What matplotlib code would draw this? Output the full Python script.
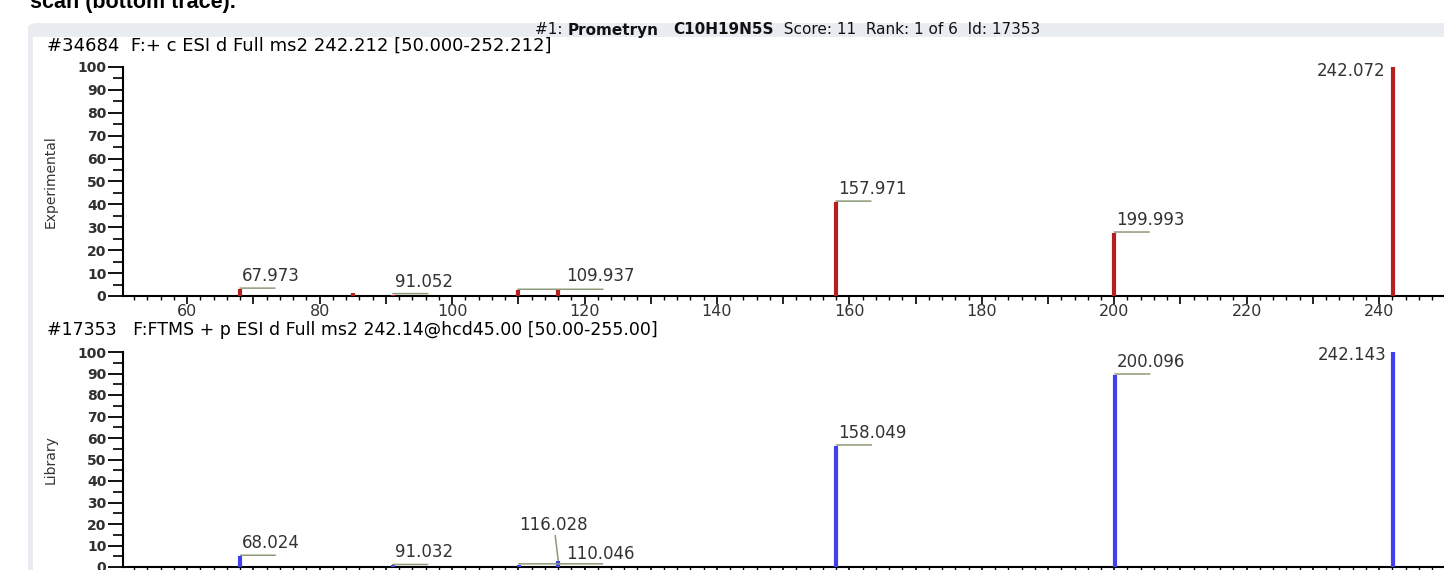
import matplotlib
matplotlib.use("Agg")
import matplotlib.pyplot as plt
from matplotlib.patches import FancyBboxPatch, Rectangle
from matplotlib.ticker import MultipleLocator, FuncFormatter
from matplotlib.transforms import offset_copy

plt.rcParams['font.family'] = ['DejaVu Sans']

# experimental spectrum (top trace)
exp_mz = [67.973, 85.0, 91.052, 109.937, 116.0, 157.971, 199.993, 242.072]
exp_int = [3.0, 1.2, 0.6, 2.5, 3.0, 41.0, 27.5, 100.0]
exp_labels = ['67.973', None, '91.052', '109.937', None, '157.971', '199.993', '242.072']

# library spectrum (bottom trace)
lib_mz = [68.024, 91.032, 110.046, 116.028, 158.049, 200.096, 242.143]
lib_int = [5.0, 0.7, 1.0, 3.0, 56.3, 89.3, 100.0]
lib_labels = ['68.024', '91.032', '110.046', '116.028', '158.049', '200.096', '242.143']

exp_header = "#34684  F:+ c ESI d Full ms2 242.212 [50.000-252.212]"
lib_header = "#17353   F:FTMS + p ESI d Full ms2 242.14@hcd45.00 [50.00-255.00]"
title_parts = [("#1: ", "normal"), ("Prometryn", "bold"), ("   ", "normal"),
               ("C10H19N5S", "bold"), ("  Score: 11  Rank: 1 of 6  Id: 17353", "normal")]

# label placement in pixels relative to the peak top:
# text anchor, leader start height, leader end point
DEFAULT_POS = dict(text=(2, 13), lead0=1, lead=(35, 0), ha='left')
LABEL_POS = {
    '109.937': dict(text=(48, 14), lead0=1, lead=(85, 0), ha='left'),
    '110.046': dict(text=(48, 11), lead0=1, lead=(84, 0), ha='left'),
    '116.028': dict(text=(-39, 36), lead0=0, lead=(-3, 25), ha='left'),
    '242.072': dict(text=(-7, -4), lead0=0, lead=None, ha='right'),
    '242.143': dict(text=(-7, -3), lead0=0, lead=None, ha='right'),
}

W, H = 1444, 570
fig = plt.figure(figsize=(W / 100, H / 100), dpi=100)


def fx(px):
    return px / W


def fy(py):
    return 1 - py / H


# grey rounded frame with the title bar, kept behind the axes
frame = FancyBboxPatch((fx(28), fy(700)), fx(1500), fy(23) - fy(700),
                       boxstyle="round,pad=0,rounding_size=0.008",
                       transform=fig.transFigure, fc='#e9ecf0', ec='none', zorder=-3)
fig.patches.append(frame)
fig.patches.append(Rectangle((fx(33), 0), 1, fy(37), transform=fig.transFigure,
                             fc='white', ec='none', zorder=-2))

fig.text(fx(30), fy(8), "scan (bottom trace).", fontsize=15.5, weight='bold',
         family=['Liberation Sans', 'DejaVu Sans'], va='baseline', color='black')

# title line, pieces chained left to right
renderer = fig.canvas.get_renderer()
x = fx(535)
for txt, wt in title_parts:
    t = fig.text(x, fy(30), txt, fontsize=11, weight=wt, va='center', color='#111111')
    bb = t.get_window_extent(renderer)
    x = bb.x1 / W

fig.text(fx(47), fy(46), exp_header, fontsize=13, va='center', color='black')
fig.text(fx(47), fy(330), lib_header, fontsize=12.5, va='center', color='black')

ax_top = fig.add_axes([fx(123), fy(296), 1 - fx(123), fy(67) - fy(296)])
ax_bot = fig.add_axes([fx(123), fy(567), 1 - fx(123), fy(352) - fy(567)])


def draw_spectrum(ax, mz, inten, labels, color, ylabel, show_x=True):
    ax.vlines(mz, 0, inten, colors=color, lw=3, clip_on=False, zorder=3)
    for m, h, lab in zip(mz, inten, labels):
        if lab is None:
            continue
        pos = LABEL_POS.get(lab, DEFAULT_POS)
        if pos['lead'] is not None:
            start = offset_copy(ax.transData, fig=fig, x=0, y=pos['lead0'], units='dots')
            ax.annotate('', xy=(m, h), xycoords=start, xytext=pos['lead'],
                        textcoords='offset pixels',
                        arrowprops=dict(arrowstyle='-', color='#8c9a78', lw=1.1,
                                        shrinkA=0, shrinkB=0), annotation_clip=False)
        ax.annotate(lab, xy=(m, h), xytext=pos['text'], textcoords='offset pixels',
                    ha=pos['ha'], va='center', fontsize=12, color='#333333',
                    annotation_clip=False)

    ax.set_xlim(50.3, 249.8)
    ax.set_ylim(0, 100)
    for s in ['top', 'right']:
        ax.spines[s].set_visible(False)
    for s in ['left', 'bottom']:
        ax.spines[s].set_linewidth(1.5)
        ax.spines[s].set_color('black')

    ax.xaxis.set_major_locator(MultipleLocator(10))
    ax.xaxis.set_minor_locator(MultipleLocator(2))
    ax.xaxis.set_major_formatter(FuncFormatter(
        lambda v, p: '%d' % v if round(v) % 20 == 0 else ''))
    ax.yaxis.set_major_locator(MultipleLocator(10))
    ax.yaxis.set_minor_locator(MultipleLocator(5))

    ax.tick_params(axis='x', which='major', length=6, width=1.2, pad=0,
                   labelsize=11.5, labelcolor='#333333', labelbottom=show_x)
    ax.tick_params(axis='x', which='minor', length=3, width=1)
    ax.tick_params(axis='y', which='major', length=11, width=1.3, pad=1,
                   labelsize=10, labelcolor='#303030')
    ax.tick_params(axis='y', which='minor', length=7, width=1.2)
    for lab in ax.get_yticklabels():
        lab.set_fontweight('bold')

    ax.set_ylabel(ylabel, family=['Liberation Sans Narrow', 'DejaVu Sans'],
                  fontsize=10, color='#333333', labelpad=14)
    ax.patch.set_alpha(0)


draw_spectrum(ax_top, exp_mz, exp_int, exp_labels, '#b3201f', 'Experimental')
# the library axis sits on the lower edge, its m/z labels fall outside the view
draw_spectrum(ax_bot, lib_mz, lib_int, lib_labels, '#4040f0', 'Library', show_x=False)

fig.savefig('out.png', dpi=100)
